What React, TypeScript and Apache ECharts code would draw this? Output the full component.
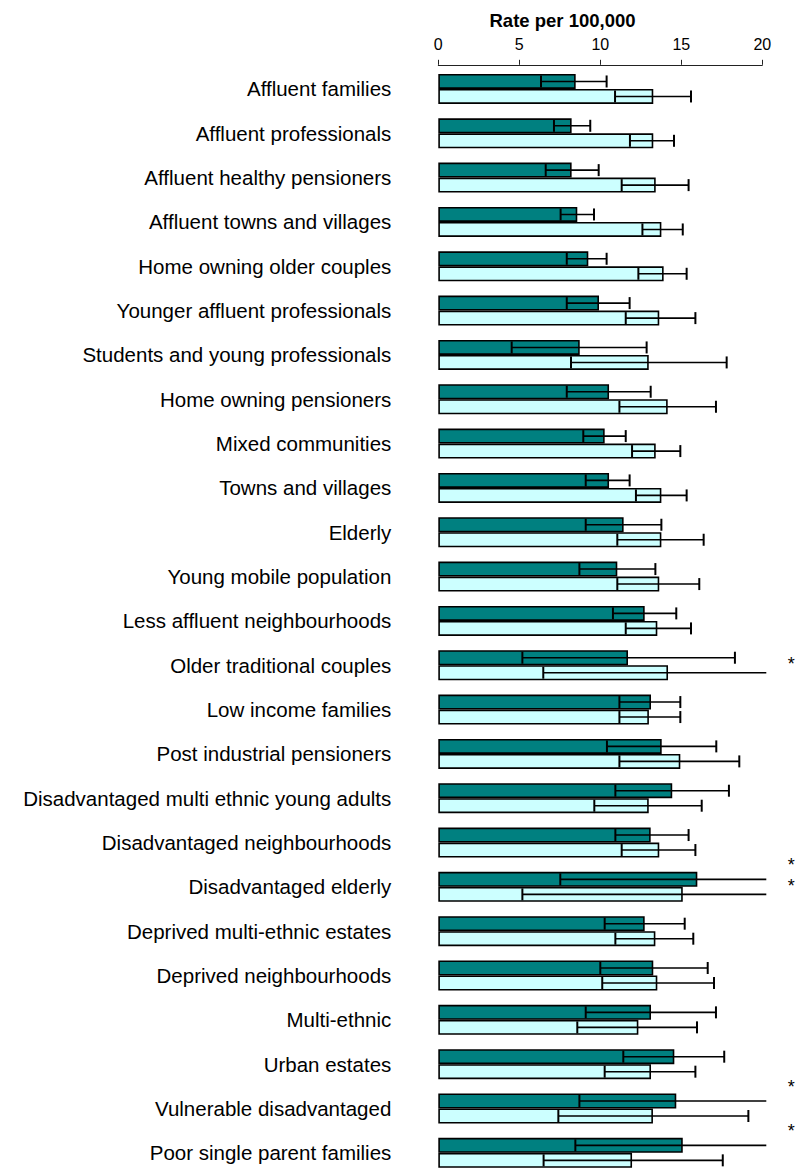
import React, { useEffect, useRef } from "react";
import * as echarts from "echarts";

const categories = [
  "Affluent families",
  "Affluent professionals",
  "Affluent healthy pensioners",
  "Affluent towns and villages",
  "Home owning older couples",
  "Younger affluent professionals",
  "Students and young professionals",
  "Home owning pensioners",
  "Mixed communities",
  "Towns and villages",
  "Elderly",
  "Young mobile population",
  "Less affluent neighbourhoods",
  "Older traditional couples",
  "Low income families",
  "Post industrial pensioners",
  "Disadvantaged multi ethnic young adults",
  "Disadvantaged neighbourhoods",
  "Disadvantaged elderly",
  "Deprived multi-ethnic estates",
  "Deprived neighbourhoods",
  "Multi-ethnic",
  "Urban estates",
  "Vulnerable disadvantaged",
  "Poor single parent families",
];

// First (dark teal) series
const darkRate = [8.48, 8.23, 8.23, 8.58, 9.26, 9.92, 8.73, 10.54, 10.27, 10.54, 11.44, 11.05, 12.74, 11.71, 13.13, 13.79, 14.44, 13.11, 15.99, 12.74, 13.27, 13.13, 14.57, 14.69, 15.09];
const darkLow = [6.34, 7.14, 6.63, 7.55, 7.93, 7.93, 4.53, 7.93, 8.95, 9.1, 9.1, 8.71, 10.78, 5.19, 11.18, 10.41, 10.93, 10.93, 7.53, 10.27, 10.0, 9.1, 11.42, 8.71, 8.46];
const darkHigh = [10.39, 9.38, 9.9, 9.61, 10.39, 11.81, 12.86, 13.11, 11.57, 11.81, 13.77, 13.4, 14.69, 18.31, 14.94, 17.16, 17.94, 15.45, 27.0, 15.21, 16.63, 17.14, 17.65, 23.5, 25.0];

// Second (light cyan) series
const lightRate = [13.27, 13.27, 13.42, 13.77, 13.91, 13.64, 12.99, 14.16, 13.42, 13.77, 13.77, 13.64, 13.52, 14.18, 13.0, 14.94, 12.99, 13.64, 15.09, 13.4, 13.52, 12.35, 13.13, 13.25, 11.96];
const lightLow = [10.91, 11.83, 11.32, 12.6, 12.35, 11.57, 8.19, 11.18, 11.96, 12.2, 11.05, 11.05, 11.57, 6.48, 11.18, 11.18, 9.63, 11.32, 5.19, 10.93, 10.12, 8.58, 10.27, 7.41, 6.5];
const lightHigh = [15.6, 14.55, 15.45, 15.09, 15.33, 15.87, 17.8, 17.14, 14.94, 15.33, 16.38, 16.11, 15.6, 25.0, 14.94, 18.58, 16.26, 15.87, 29.0, 15.74, 17.02, 15.97, 15.87, 19.14, 17.56];

const xTicks = [0, 5, 10, 15, 20];

const X_MIN = xTicks[0];
const X_MAX = xTicks[xTicks.length - 1];
const FONT = "Arial, 'Liberation Sans', sans-serif";

function errorSeries(name: string, low: number[], high: number[], offset: number, starOffset: number) {
  return {
    type: "custom",
    name,
    clip: false,
    z: 10,
    data: categories.map((_, i) => [i, low[i], high[i]]),
    encode: { y: 0, x: [1, 2] },
    renderItem: (params: any, api: any) => {
      const idx = api.value(0);
      const lo = api.value(1);
      const hi = api.value(2);
      const cs = params.coordSys;
      const right = cs.x + cs.width;
      const y = api.coord([0, idx])[1] + offset;
      const x1 = api.coord([lo, idx])[0];
      const over = hi > X_MAX;
      const x2 = over ? right + 4 : api.coord([hi, idx])[0];
      const ls = { stroke: "#000", lineWidth: 1.6 };
      const capH = 6;
      const children: any[] = [
        { type: "line", shape: { x1, y1: y, x2, y2: y }, style: ls },
        { type: "line", shape: { x1, y1: y - capH, x2: x1, y2: y + capH }, style: { stroke: "#000", lineWidth: 2 } },
      ];
      if (!over) {
        children.push({ type: "line", shape: { x1: x2, y1: y - capH, x2, y2: y + capH }, style: { stroke: "#000", lineWidth: 2 } });
      } else {
        children.push({
          type: "text",
          x: right + 29,
          y: y + starOffset,
          style: {
            text: "*",
            fill: "#000",
            fontSize: 18,
            fontFamily: FONT,
            align: "center",
            verticalAlign: "middle",
            textAlign: "center",
            textVerticalAlign: "middle",
          },
        });
      }
      return { type: "group", children };
    },
  };
}

export default function App() {
  const ref = useRef<HTMLDivElement>(null);
  useEffect(() => {
    if (!ref.current) return;
    const chart = echarts.init(ref.current, null, { renderer: "svg" });
    chart.setOption({
      animation: false,
      backgroundColor: "#fff",
      grid: { left: 438.3, right: 35.7, top: 66.8, bottom: -3.2, containLabel: false },
      graphic: [
        {
          type: "text",
          x: 562.5,
          y: 20,
          style: {
            text: "Rate per 100,000",
            fill: "#000",
            fontSize: 18.5,
            fontWeight: "bold",
            fontFamily: FONT,
            align: "center",
            verticalAlign: "middle",
            textAlign: "center",
            textVerticalAlign: "middle",
          },
        },
      ],
      xAxis: {
        type: "value",
        position: "top",
        min: X_MIN,
        max: X_MAX,
        interval: 5,
        offset: 2,
        axisLine: { show: true, lineStyle: { color: "#222", width: 1 } },
        axisTick: { show: true, length: 5, lineStyle: { color: "#222", width: 1 } },
        axisLabel: { fontSize: 16, color: "#000", fontFamily: FONT, margin: 12 },
        splitLine: { show: false },
      },
      yAxis: {
        type: "category",
        data: categories,
        inverse: true,
        axisLine: { show: false },
        axisTick: { show: false },
        axisLabel: { fontSize: 20.5, color: "#000", fontFamily: FONT, margin: 47 },
        splitLine: { show: false },
      },
      series: [
        {
          type: "bar",
          name: "Series 1",
          data: darkRate,
          barWidth: 15,
          barGap: "0%",
          itemStyle: { color: "#008080", borderColor: "#000", borderWidth: 1.6 },
        },
        {
          type: "bar",
          name: "Series 2",
          data: lightRate,
          barWidth: 15,
          barGap: "0%",
          itemStyle: { color: "#CCFFFF", borderColor: "#000", borderWidth: 1.6 },
        },
        errorSeries("Series 1 CI", darkLow, darkHigh, -7.5, -14.5),
        errorSeries("Series 2 CI", lightLow, lightHigh, 7.5, -8.5),
      ],
    });
    return () => chart.dispose();
  }, []);
  return (
    <div
      ref={ref}
      style={{ position: "absolute", left: 0, top: 0, width: 798, height: 1175, overflow: "hidden" }}
    />
  );
}
